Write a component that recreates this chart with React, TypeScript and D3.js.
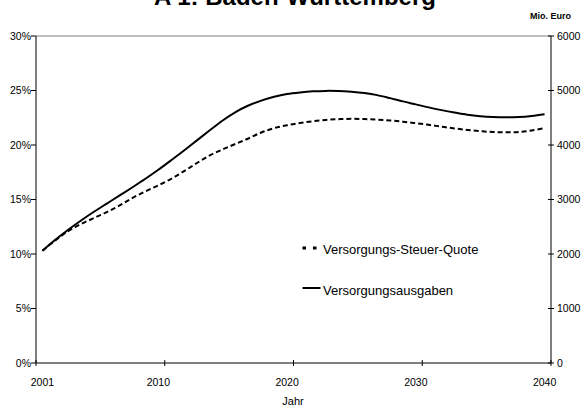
import React from "react";
import * as d3 from "d3";

const years: number[] = d3.range(2001, 2041);
const tickLabelYears: number[] = [2001, 2010, 2020, 2030, 2040];
const boundaryYears: number[] = [2001, 2011, 2021, 2031];

// Versorgungs-Steuer-Quote (%), left axis
const quote: number[] = [
  10.3, 11.25, 12.1, 12.75, 13.3, 13.85, 14.45, 15.15, 15.75, 16.3,
  16.9, 17.6, 18.35, 19.05, 19.6, 20.1, 20.6, 21.15, 21.55, 21.82,
  22.02, 22.18, 22.3, 22.37, 22.4, 22.38, 22.33, 22.25, 22.14, 22.0,
  21.85, 21.68, 21.52, 21.38, 21.27, 21.19, 21.16, 21.2, 21.33, 21.55,
];

// Versorgungsausgaben (Mio. Euro), right axis
const ausgaben: number[] = [
  2060, 2260, 2445, 2615, 2775, 2925, 3075, 3225, 3380, 3545,
  3720, 3900, 4085, 4270, 4450, 4605, 4725, 4815, 4885, 4935,
  4965, 4985, 4993, 4990, 4975, 4952, 4915, 4860, 4800, 4745,
  4690, 4640, 4595, 4555, 4528, 4512, 4507, 4512, 4532, 4565,
];

const leftTicks: number[] = [0, 5, 10, 15, 20, 25, 30];
const rightTicks: number[] = [0, 1000, 2000, 3000, 4000, 5000, 6000];

const W = 584;
const H = 408;
const L = 36;
const R = 551;
const T = 36;
const B = 363;
const FONT = "Liberation Sans, Arial, sans-serif";

export default function App() {
  const x = d3.scaleBand<number>().domain(years).range([L, R]).padding(0);
  const cx = (yr: number) => (x(yr) as number) + x.bandwidth() / 2;
  const yL = d3.scaleLinear().domain([0, 30]).range([B, T]);
  const yR = d3.scaleLinear().domain([0, 6000]).range([B, T]);

  const lineQ = d3
    .line<number>()
    .x((_, i) => cx(years[i]))
    .y((d) => yL(d))
    .curve(d3.curveCatmullRom.alpha(0.5));
  const lineA = d3
    .line<number>()
    .x((_, i) => cx(years[i]))
    .y((d) => yR(d))
    .curve(d3.curveCatmullRom.alpha(0.5));

  const boundaryXs = [...boundaryYears.map((yr) => x(yr) as number), R];

  return (
    <svg
      width={W}
      height={H}
      style={{ position: "absolute", left: 0, top: 0, background: "#fff" }}
      fontFamily={FONT}
    >
      <rect x={0} y={0} width={W} height={H} fill="#fff" />
      {/* Title (partially cut off at top, as in the reference) */}
      <text x={295} y={4.5} textAnchor="middle" fontSize={24} fontWeight="bold" fill="#000">
        A 1: Baden-Württemberg
      </text>
      <text x={571} y={19} textAnchor="end" fontSize={9} fontWeight="bold" fill="#000">
        Mio. Euro
      </text>

      {/* plot border top */}
      <line x1={L} x2={R} y1={T} y2={T} stroke="#808080" strokeWidth={1} />

      {/* left axis */}
      <line x1={L} x2={L} y1={T} y2={B} stroke="#000" strokeWidth={1} />
      {leftTicks.map((t) => (
        <g key={"l" + t}>
          <line x1={L - 5} x2={L} y1={yL(t)} y2={yL(t)} stroke="#000" />
          <text x={L - 5} y={yL(t)} dy="0.35em" textAnchor="end" fontSize={10.5} fill="#000">
            {t + "%"}
          </text>
        </g>
      ))}

      {/* right axis */}
      <line x1={R} x2={R} y1={T} y2={B} stroke="#000" strokeWidth={1} />
      {rightTicks.map((t) => (
        <g key={"r" + t}>
          <line x1={R - 3} x2={R + 3} y1={yR(t)} y2={yR(t)} stroke="#000" />
          <text x={R + 6} y={yR(t)} dy="0.35em" textAnchor="start" fontSize={10.5} fill="#000">
            {t}
          </text>
        </g>
      ))}

      {/* bottom axis */}
      <line x1={L} x2={R} y1={B} y2={B} stroke="#000" strokeWidth={1} />
      {boundaryXs.map((bx, i) => (
        <line key={"b" + i} x1={bx} x2={bx} y1={B - 3} y2={B + 3} stroke="#000" />
      ))}
      {tickLabelYears.map((yr) => (
        <text key={"x" + yr} x={cx(yr)} y={382} dy="0.35em" textAnchor="middle" fontSize={10.5} fill="#000">
          {yr}
        </text>
      ))}
      <text x={293} y={401} dy="0.35em" textAnchor="middle" fontSize={11} fill="#000">
        Jahr
      </text>

      {/* series */}
      <path d={lineA(ausgaben) || ""} fill="none" stroke="#000" strokeWidth={2} />
      <path
        d={lineQ(quote) || ""}
        fill="none"
        stroke="#000"
        strokeWidth={2}
        strokeDasharray="5,3"
      />

      {/* legend */}
      <line x1={302.5} x2={318} y1={248} y2={248} stroke="#000" strokeWidth={3} strokeDasharray="3.5,7" />
      <text x={323} y={249} dy="0.35em" fontSize={13} fill="#000">
        Versorgungs-Steuer-Quote
      </text>
      <line x1={302.5} x2={320.5} y1={288} y2={288} stroke="#000" strokeWidth={2} />
      <text x={323} y={290} dy="0.35em" fontSize={13} fill="#000">
        Versorgungsausgaben
      </text>
    </svg>
  );
}
